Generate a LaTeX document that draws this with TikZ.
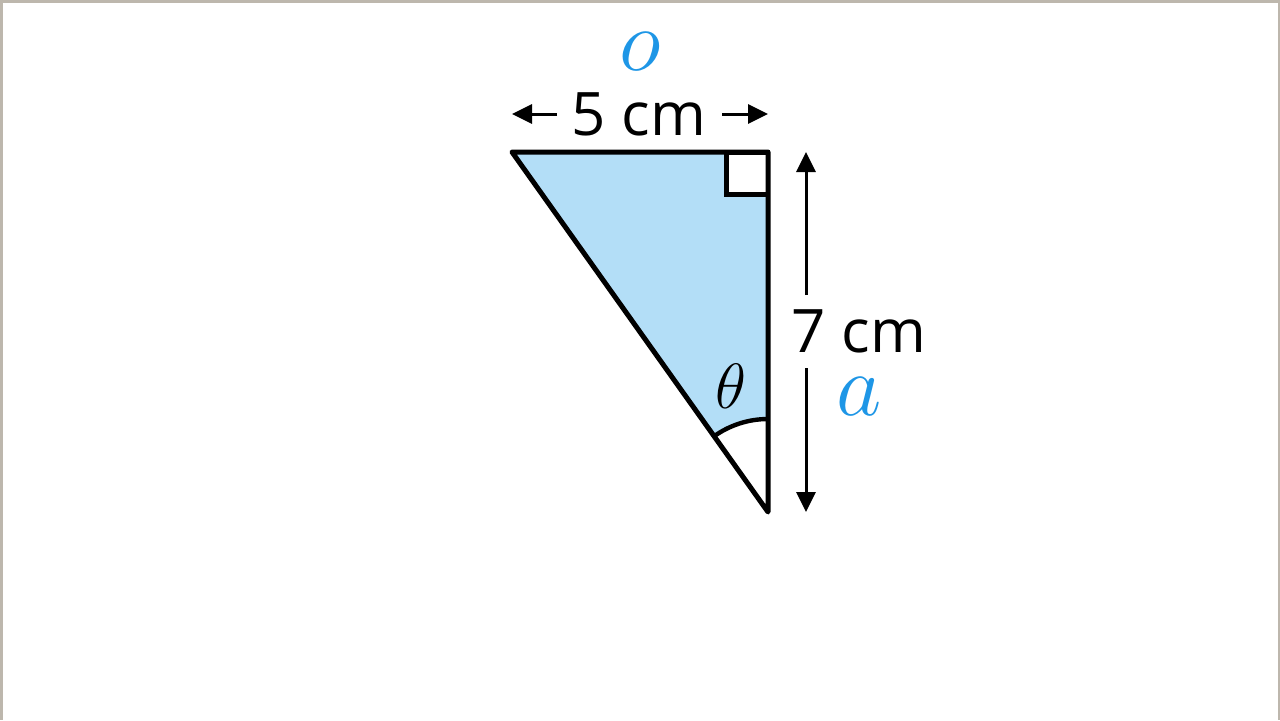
\documentclass[tikz,border=0pt]{standalone}
\usepackage{fix-cm}
\usepackage{fontspec}
\setmainfont{Open Sans}
\usetikzlibrary{arrows.meta,calc}
\definecolor{sideblue}{HTML}{1E96E6}
\definecolor{fillblue}{HTML}{B3DEF7}
\definecolor{frame}{HTML}{BDB7AD}
\tikzset{
  measure/.style={line width=1.5pt, -{Triangle[length=10pt,width=9.5pt]}},
  lbl/.style={inner sep=0pt, font=\fontsize{30}{36}\selectfont},
  sidename/.style={inner sep=0pt, text=sideblue, font=\fontsize{44}{50}\selectfont},
}
\begin{document}
\begin{tikzpicture}[x=0.5pt,y=-0.5pt]
\useasboundingbox (0,0) rectangle (1280,720);
\draw[frame, line width=1.5pt] (1,720) -- (1,1) -- (1279,1) -- (1279,720);
% triangle
\coordinate (A) at (512,152);
\coordinate (C) at (768,152);
\coordinate (B) at (768,512);
\coordinate (arcstart) at ($(B)+(234.6:93)$);
\fill[fillblue] (A) -- (C) -- (B) -- cycle;
\fill[white] (B) -- (arcstart) arc[start angle=234.6, end angle=270, radius=93] -- cycle;
\draw[line width=2.5pt, fill=white] (768,152) -- (726,152) -- (726,194) -- (768,194);
\draw[line width=2.2pt] (arcstart) arc[start angle=234.6, end angle=270, radius=93];
\draw[line width=2.5pt, line join=round] (A) -- (C) -- (B) -- cycle;
% labels
\node[lbl] (adj) at (859,331) {7 cm};
\node[lbl] (opp) at (639,114) {5 cm};
\node[sidename] (o) at (640,52) {$o$};
\node[sidename] (a) at (859,397) {$a$};
\node[inner sep=0pt, font=\fontsize{32}{38}\selectfont] (theta) at (731,386) {$\theta$};
% measuring arrows
\draw[measure] (557,114) -- (A |- opp);
\draw[measure] (722,114) -- (C |- opp);
\draw[measure] (806,295) -- (806,152);
\draw[measure] (806,368) -- (806,512);
\end{tikzpicture}
\end{document}
